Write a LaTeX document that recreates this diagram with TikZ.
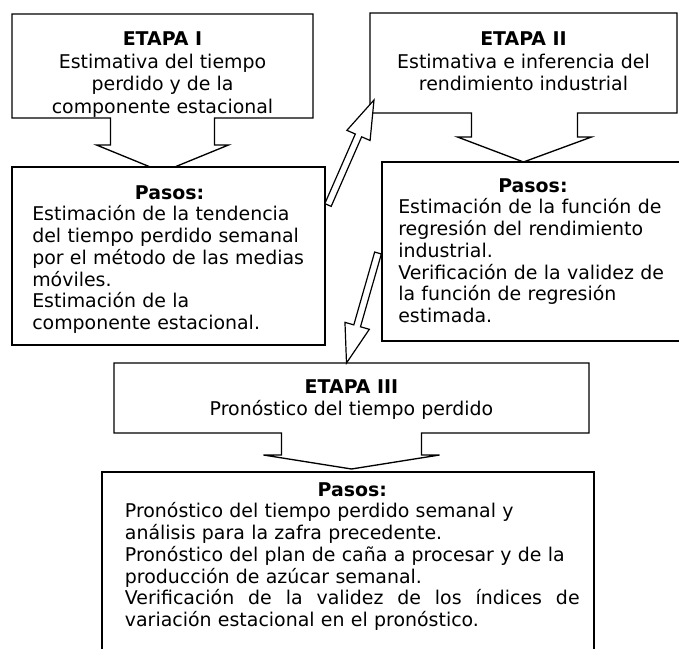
\documentclass[tikz,border=0pt]{standalone}
\usepackage{fontspec}
\setmainfont{DejaVu Sans}
\usetikzlibrary{arrows.meta, positioning, calc, fit}

\begin{document}
\begin{tikzpicture}[x=0.75pt, y=-0.75pt,
  stage/.style={inner sep=0pt, outer sep=0pt},
  stepsbox/.style={draw, fill=white, line width=0.9pt, inner sep=0pt, outer sep=0pt},
  heading/.style={align=center, inner sep=0pt, font=\fontsize{14.2}{16.8}\selectfont},
  stepstext/.style={align=left, inner sep=0pt, font=\fontsize{14.2}{16.3}\selectfont},
  outline/.style={draw, fill=white, line width=1pt, line join=miter},
  hollow/.style={draw, fill=white, line width=0.9pt, line join=miter}]

  \useasboundingbox (0,0) rectangle (679,649);
  \clip (0,0) rectangle (679,649);

  % boxes of the three stages
  \node[stage, fit={(12,14) (313,118)}] (etapaI) {};
  \node[stage, fit={(370,13) (677,113)}] (etapaII) {};
  \node[stage, fit={(114,363) (589,433)}] (etapaIII) {};

  % callout outlines
  \draw[outline] (etapaI.south west) -- (etapaI.north west) -- (etapaI.north east) -- (etapaI.south east)
    -- ($(etapaI.south)+(52,0)$) -- ++(0,27) -- ++(14,0) -- ($(etapaI.south)+(0,54)$)
    -- ($(etapaI.south)+(-66,27)$) -- ++(14,0) -- ++(0,-27) -- cycle;
  \draw[outline] (etapaII.south west) -- (etapaII.north west) -- (etapaII.north east) -- (etapaII.south east)
    -- ($(etapaII.south)+(54,0)$) -- ++(0,24) -- ++(14,0) -- ($(etapaII.south)+(0,49)$)
    -- ($(etapaII.south)+(-66,24)$) -- ++(14,0) -- ++(0,-24) -- cycle;
  \draw[outline] (etapaIII.south west) -- (etapaIII.north west) -- (etapaIII.north east) -- (etapaIII.south east)
    -- ($(etapaIII.south)+(70,0)$) -- ++(0,22) -- ++(18,0) -- ($(etapaIII.south)+(0,36)$)
    -- ($(etapaIII.south)+(-88,22)$) -- ++(18,0) -- ++(0,-22) -- cycle;

  % boxes of the steps
  \node[stepsbox, fit={(12,167) (325,345)}] (pasosI) {};
  \node[stepsbox, fit={(382,162) (700,341)}] (pasosII) {};
  \node[stepsbox, fit={(102,472) (594,680)}] (pasosIII) {};

  % texts
  \node[heading, below=13.3pt of etapaI.north] (etapaItxt)
    {\textbf{ETAPA I}\\Estimativa del tiempo\\perdido y de la\\componente estacional};
  \node[heading, below=14pt of etapaII.north] (etapaIItxt)
    {\textbf{ETAPA II}\\Estimativa e inferencia del\\rendimiento industrial};
  \node[heading, below=12pt of etapaIII.north] (etapaIIItxt)
    {\textbf{ETAPA III}\\Pronóstico del tiempo perdido};

  \node[stepstext, text width=206pt, below right=13.5pt and 15pt of pasosI.north west] (pasosItxt)
    {\makebox[\linewidth]{\textbf{Pasos:}}\\
     Estimación de la tendencia\\
     del tiempo perdido semanal\\
     por el método de las medias\\
     móviles.\\
     Estimación de la\\
     componente estacional.};
  \node[stepstext, text width=202pt, below right=12pt and 12pt of pasosII.north west] (pasosIItxt)
    {\makebox[\linewidth]{\textbf{Pasos:}}\\
     Estimación de la función de\\
     regresión del rendimiento\\
     industrial.\\
     Verificación de la validez de\\
     la función de regresión\\
     estimada.};
  \node[stepstext, text width=341pt, below right=7.5pt and 17pt of pasosIII.north west] (pasosIIItxt)
    {\makebox[\linewidth]{\textbf{Pasos:}}\\
     Pronóstico del tiempo perdido semanal y\\
     análisis para la zafra precedente.\\
     Pronóstico del plan de caña a procesar y de la\\
     producción de azúcar semanal.\\
     \makebox[\linewidth][s]{\spaceskip=.3333em plus 2em\relax
       Verificación de la validez de los índices de}\\
     variación estacional en el pronóstico.};

  % hollow arrows between the stages
  \coordinate (a1s) at ($(pasosI.north east)+(3,38)$);
  \coordinate (a1e) at ($(etapaII.south west)+(4,-13)$);
  \coordinate (a1b) at ($(a1e)!29pt!(a1s)$);
  \coordinate (a2s) at ($(pasosII.north west)+(-4,91)$);
  \coordinate (a2e) at ($(etapaIII.north)+(-5,0)$);
  \coordinate (a2b) at ($(a2e)!29pt!(a2s)$);
  \draw[hollow] ($(a1s)!2.6pt!90:(a1e)$) -- ($(a1b)!2.6pt!90:(a1e)$) -- ($(a1b)!9.5pt!90:(a1e)$)
    -- (a1e) -- ($(a1b)!9.5pt!-90:(a1e)$) -- ($(a1b)!2.6pt!-90:(a1e)$) -- ($(a1s)!2.6pt!-90:(a1e)$) -- cycle;
  \draw[hollow] ($(a2s)!2.6pt!90:(a2e)$) -- ($(a2b)!2.6pt!90:(a2e)$) -- ($(a2b)!9.5pt!90:(a2e)$)
    -- (a2e) -- ($(a2b)!9.5pt!-90:(a2e)$) -- ($(a2b)!2.6pt!-90:(a2e)$) -- ($(a2s)!2.6pt!-90:(a2e)$) -- cycle;
\end{tikzpicture}
\end{document}
